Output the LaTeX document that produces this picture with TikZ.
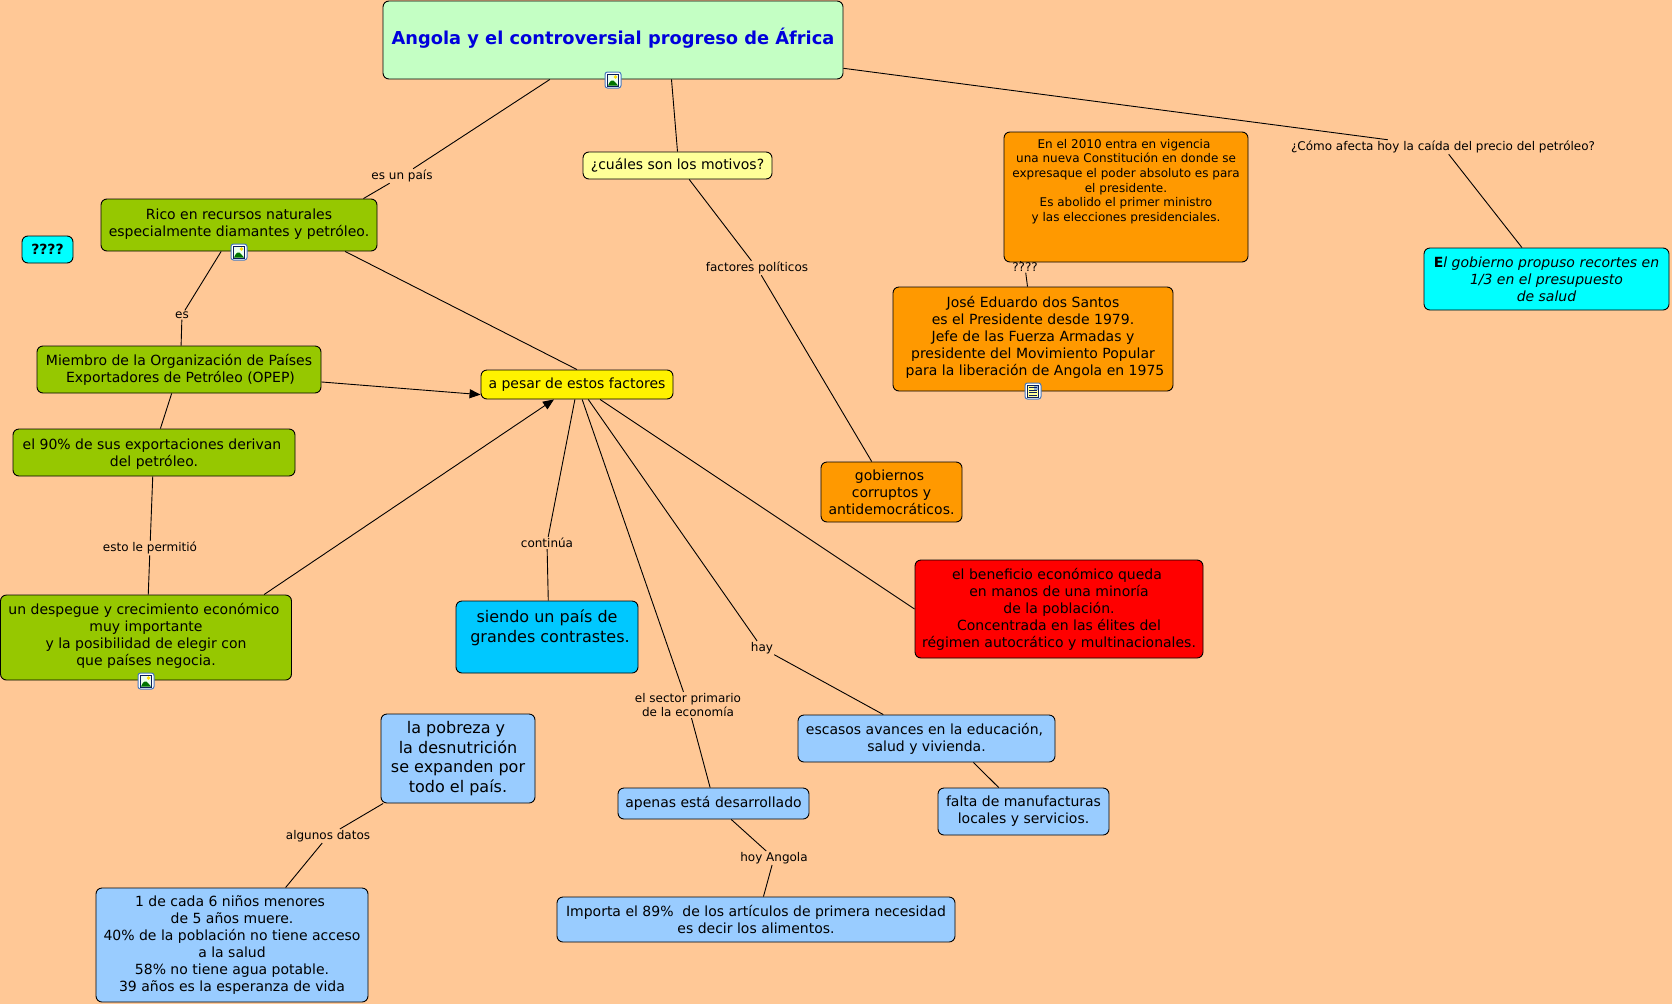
\documentclass[tikz,border=0pt]{standalone}
\usepackage{fontspec}
\setmainfont{DejaVu Sans}
\usetikzlibrary{arrows.meta}
\definecolor{bgc}{RGB}{255,200,150}
\definecolor{rootc}{RGB}{196,255,196}
\definecolor{greenc}{RGB}{150,200,0}
\definecolor{orangec}{RGB}{255,153,0}
\definecolor{paley}{RGB}{255,255,153}
\definecolor{skyc}{RGB}{0,200,255}
\definecolor{cyanc}{RGB}{0,255,255}
\definecolor{bluec}{RGB}{153,204,255}
\definecolor{titlec}{RGB}{0,0,220}
\definecolor{iconb}{RGB}{70,120,190}
\definecolor{iconn}{RGB}{10,30,90}
\newcommand{\fs}[2]{\fontsize{#1}{#2}\selectfont}
\newcommand{\hdn}[1]{\rule{0pt}{#1pt}}
\newcommand{\dep}[1]{\rule[-#1pt]{0pt}{#1pt}}
\newcommand{\tsp}{\hspace*{4pt}}
\tikzset{
  x=1pt,y=-1pt,
  box/.style={draw=black,line width=0.9pt,rounded corners=6pt,inner sep=0pt,align=center,text=black,font=\fs{14}{17}},
  bsmall/.style={box,font=\fs{12}{14.6}},
  blarge/.style={box,font=\fs{16}{19.5}},
  lab/.style={inner sep=1pt,align=center,text=black,font=\fs{12}{14.6}},
  conn/.style={draw=black,line width=0.9pt},
  arr/.style={conn,-{Triangle[length=11pt,width=9pt]}},
  imgicon/.pic={
    \draw[rounded corners=2.5pt,draw=iconb,fill=white,line width=1pt] (-8,-8) rectangle (8,8);
    \draw[draw=iconn,fill=rootc!30!white,line width=1pt] (-5.5,-6) rectangle (5.5,6);
    \fill[green!45!black] (-5,5.5) .. controls (-3,0) and (0,-1) .. (2,2) -- (5,5.5) -- cycle;
    \fill[yellow!80!orange] (2.5,-3) circle (1.8pt);
  },
  docicon/.pic={
    \draw[rounded corners=2.5pt,draw=iconb,fill=white,line width=1pt] (-8,-8) rectangle (8,8);
    \draw[draw=iconn,fill=paley,line width=1pt] (-5.5,-6) rectangle (5.5,6);
    \fill[iconb!60!white] (0.5,-5.5) rectangle (5,-1.5);
    \foreach \yy in {-3.5,-1,1.5,4}{\draw[iconn,line width=0.8pt] (-4,\yy) -- (4,\yy);}
  },
}
\begin{document}
\begin{tikzpicture}
\fill[bgc] (0,0) rectangle (1672,1004);
\useasboundingbox (0,0) rectangle (1672,1004);
% concepts
\node[box,fill=rootc,minimum width=460pt,minimum height=78pt,text=titlec,font=\bfseries\fs{17.8}{21}] (root) at (613,40) {Angola y el controversial progreso de África\dep{7}};
\node[box,fill=paley,minimum width=189pt,minimum height=27pt] (cuales) at (677.5,165.5) {¿cuáles son los motivos?};
\node[box,fill=greenc,minimum width=276pt,minimum height=52pt] (rico) at (239,225) {Rico en recursos naturales\\especialmente diamantes y petróleo.\dep{5}};
\node[box,fill=cyanc,minimum width=51pt,minimum height=27pt,font=\bfseries\fs{14}{17}] (qq) at (47.5,249.5) {????};
\node[box,fill=greenc,minimum width=284pt,minimum height=47pt] (miembro) at (179,369.5) {Miembro de la Organización de Países\\\hspace*{3pt}Exportadores de Petróleo (OPEP)};
\node[box,fill=greenc,minimum width=282pt,minimum height=47pt] (noventa) at (154,452.5) {\hdn{14.6}el 90\% de sus exportaciones derivan\tsp\\del petróleo.};
\node[box,fill=greenc,minimum width=291pt,minimum height=85pt] (despegue) at (146,637.5) {un despegue y crecimiento económico\tsp\\muy importante\\y la posibilidad de elegir con\tsp\\que países negocia.\dep{7}};
\node[box,fill=yellow,minimum width=192pt,minimum height=29pt] (apesar) at (577,384.5) {a pesar de estos factores};
\node[bsmall,fill=orangec,minimum width=244pt,minimum height=130pt] (consti) at (1126,197) {En el 2010 entra en vigencia\tsp\\una nueva Constitución en donde se\tsp\\expresaque el poder absoluto es para\\el presidente.\\Es abolido el primer ministro\\y las elecciones presidenciales.\tsp\\[18.8pt]~};
\node[box,fill=orangec,minimum width=280pt,minimum height=104pt] (jose) at (1033,339) {José Eduardo dos Santos\\es el Presidente desde 1979.\\Jefe de las Fuerza Armadas y\\presidente del Movimiento Popular\\\tsp para la liberación de Angola en 1975\dep{7}};
\node[box,fill=orangec,minimum width=141pt,minimum height=60pt] (gob) at (891.5,492) {gobiernos\tsp\\corruptos y\tsp\\antidemocráticos.};
\node[box,fill=red,minimum width=288pt,minimum height=98pt] (rojo) at (1059,609) {el beneficio económico queda\tsp\\en manos de una minoría\\de la población.\\Concentrada en las élites del\tsp\\régimen autocrático y multinacionales.};
\node[box,fill=cyanc,minimum width=245pt,minimum height=62pt] (cyanb) at (1546.5,279) {\textbf{E}\textit{l gobierno propuso recortes en}\\\textit{1/3 en el presupuesto}\\\textit{de salud}};
\node[blarge,fill=skyc,minimum width=182pt,minimum height=72pt] (siendo) at (547,637) {siendo un país de\\\hspace*{6pt}grandes contrastes.\dep{22}};
\node[blarge,fill=bluec,minimum width=154pt,minimum height=89pt] (pobreza) at (458,758.5) {la pobreza y\tsp\\la desnutrición\tsp\\se expanden por\tsp\\todo el país.};
\node[box,fill=bluec,minimum width=257pt,minimum height=47pt] (escasos) at (926.5,738.5) {escasos avances en la educación,\tsp\\salud y vivienda.};
\node[box,fill=bluec,minimum width=171pt,minimum height=47pt] (falta) at (1023.5,811.5) {falta de manufacturas\\locales y servicios.};
\node[box,fill=bluec,minimum width=191pt,minimum height=31pt] (apenas) at (713.5,803.5) {apenas está desarrollado};
\node[box,fill=bluec,minimum width=398pt,minimum height=45pt] (importa) at (756,919.5) {Importa el 89\%\ \ de los artículos de primera necesidad\\es decir los alimentos.};
\node[box,fill=bluec,minimum width=272pt,minimum height=114pt] (nincs) at (232,945) {1 de cada 6 niños menores\tsp\\de 5 años muere.\\40\% de la población no tiene acceso\\a la salud\\58\% no tiene agua potable.\\39 años es la esperanza de vida};
% linking phrases
\node[lab] (lpais) at (402,176) {es un país};
\node[lab] (les) at (182,315) {es};
\node[lab] (lfact) at (757,268) {factores políticos};
\node[lab] (lcomo) at (1443,147) {¿Cómo afecta hoy la caída del precio del petróleo?};
\node[lab] (lqq) at (1025,267) {????};
\node[lab] (lesto) at (150,548) {esto le permitió};
\node[lab] (lcont) at (547,543) {continúa};
\node[lab] (lsector) at (688,705) {el sector primario\\de la economía};
\node[lab] (lhay) at (762,648) {hay};
\node[lab] (lhoy) at (774,858) {hoy Angola};
\node[lab] (ldatos) at (328,836) {algunos datos};
% connectors
\draw[conn] (root.212) -- (lpais);
\draw[conn] (lpais) -- (rico.12.5);
\draw[conn] (root.326) -- (cuales.90);
\draw[conn] (cuales.310) -- (lfact);
\draw[conn] (lfact) -- (gob.123);
\draw[conn] (root.353.8) -- (lcomo);
\draw[conn] (lcomo) -- (cyanb.128);
\draw[conn] (consti.212.8) -- (lqq);
\draw[conn] (lqq) -- (jose.96.6);
\draw[conn] (rico.236.8) -- (les);
\draw[conn] (les) -- (miembro.85);
\draw[conn] (rico.346.5) -- (apesar.90);
\draw[arr] (miembro.355.5) -- (apesar.186.5);
\draw[conn] (miembro.253.4) -- (noventa.75.7);
\draw[conn] (noventa.267.5) -- (lesto);
\draw[conn] (lesto) -- (despegue.87.3);
\draw[arr] (despegue.20.4) -- (apesar.213.4);
\draw[conn] (apesar.262) -- (lcont);
\draw[conn] (lcont) -- (siendo.88);
\draw[conn] (apesar.289) -- (lsector);
\draw[conn] (lsector) -- (apenas.102.7);
\draw[conn] (apesar.307) -- (lhay);
\draw[conn] (lhay) -- (escasos.151);
\draw[conn] (apesar.327.8) -- (rojo.180);
\draw[conn] (escasos.333.7) -- (falta.136);
\draw[conn] (apenas.318.5) -- (lhoy);
\draw[conn] (lhoy) -- (importa.72.7);
\draw[conn] (pobreza.211.4) -- (ldatos);
\draw[conn] (ldatos) -- (nincs.47);
% icons
\pic at (613,80) {imgicon};
\pic at (239,252) {imgicon};
\pic at (146,681) {imgicon};
\pic at (1033,391) {docicon};
\end{tikzpicture}
\end{document}
